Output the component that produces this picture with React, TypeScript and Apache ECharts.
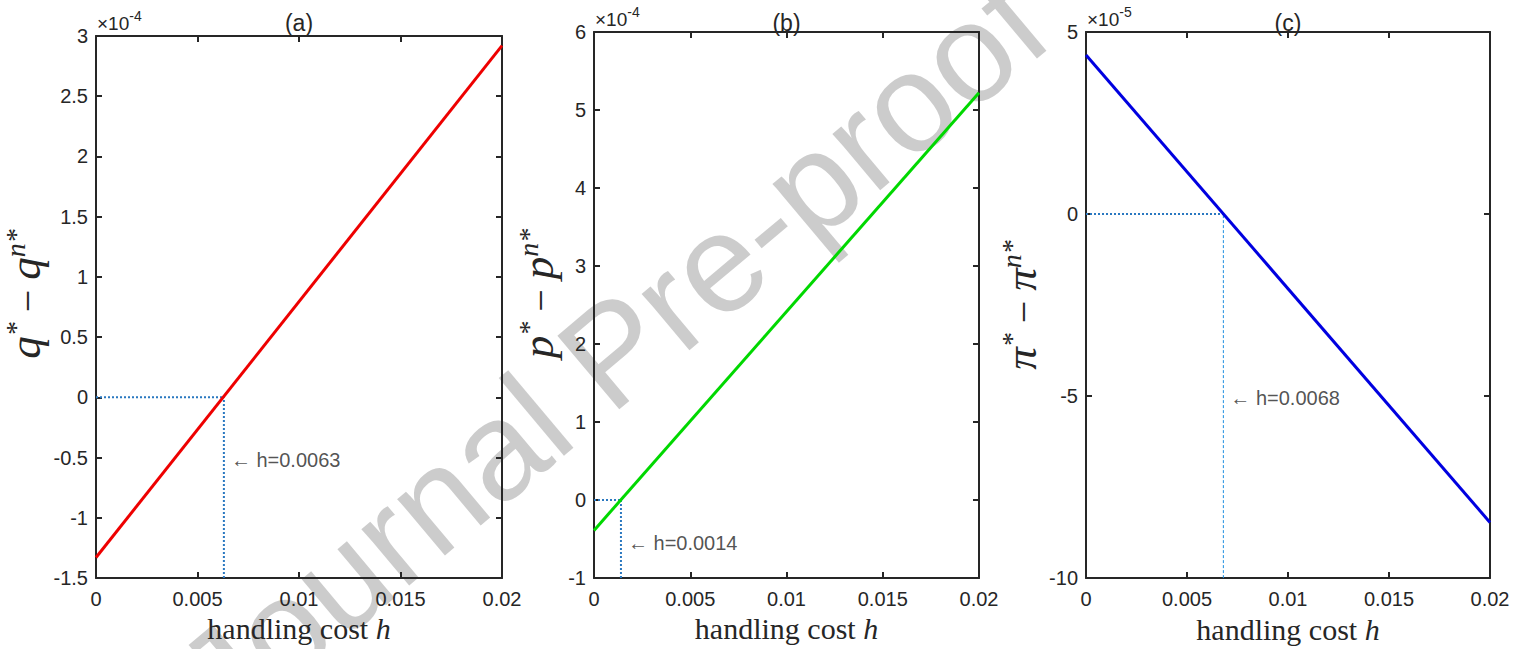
import React, { useEffect, useRef } from "react";
import * as echarts from "echarts";

// ---- data ----
const hRange = [0, 0.02];
const qDiff = [-1.33, 2.92]; // q* - q^{n*}, units of 1e-4
const pDiff = [-0.39, 5.22]; // p* - p^{n*}, units of 1e-4
const piDiff = [4.37, -8.47]; // pi* - pi^{n*}, units of 1e-5
const crossH = [0.0063, 0.0014, 0.0068];
const annotY = [-0.52, -0.55, -5.04];
const panelTitles = ["(a)", "(b)", "(c)"];
const exponents = ["-4", "-4", "-5"];
const yMins = [-1.5, -1, -10];
const yMaxs = [3, 6, 5];
const ySteps = [0.5, 1, 5];
const xMin = 0;
const xMax = 0.02;
const xStep = 0.005;
const lineColors = ["#ee0000", "#00d800", "#0000e0"];
const yNames = [
  "{m|q}{s|*}{o| − }{m|q}{s|n*}",
  "{m|p}{s|*}{o| − }{m|p}{s|n*}",
  "{m|π}{s|*}{o| − }{m|π}{s|n*}",
];
const seriesValues = [qDiff, pDiff, piDiff];

const grids = [
  { left: 96, top: 36, width: 406, height: 542 },
  { left: 594, top: 32, width: 385, height: 546 },
  { left: 1086, top: 32, width: 404, height: 547 },
];
const yNameGaps = [49, 34, 43];
const yNameShift = [26, 23, 0];

const AXIS = "#262626";
const REF = "#2a78c0";
const SANS = "'Liberation Sans', Arial, sans-serif";
const SERIF = "'Liberation Serif', 'Times New Roman', serif";

export default function App() {
  const ref = useRef<HTMLDivElement>(null);
  useEffect(() => {
    if (!ref.current) return;
    const chart = echarts.init(ref.current, undefined, { renderer: "svg" });
    const tickFont = { fontFamily: SANS, fontSize: 20, color: AXIS };

    const xAxes: any[] = [];
    const yAxes: any[] = [];
    const series: any[] = [];
    const titles: any[] = [];
    const graphics: any[] = [];

    for (let i = 0; i < 3; i++) {
      const base = {
        gridIndex: i,
        type: "value",
        splitLine: { show: false },
        axisLine: { show: true, onZero: false, lineStyle: { color: AXIS, width: 2 } },
        axisTick: { show: true, inside: true, length: 6, lineStyle: { color: AXIS, width: 2 } },
      };
      xAxes[i] = {
        ...base,
        position: "bottom",
        min: xMin,
        max: xMax,
        interval: xStep,
        axisLabel: {
          ...tickFont,
          margin: 11,
          formatter: (v: number) => String(parseFloat(v.toFixed(4))),
        },
        name: "{r|handling cost }{i|h}",
        nameLocation: "middle",
        nameGap: 27,
        nameTextStyle: {
          rich: {
            r: { fontFamily: SERIF, fontSize: 30, color: AXIS },
            i: { fontFamily: SERIF, fontSize: 30, fontStyle: "italic", color: AXIS },
          },
        },
      };
      xAxes[i + 3] = {
        ...base,
        position: "top",
        min: xMin,
        max: xMax,
        interval: xStep,
        axisLabel: { show: false },
      };
      yAxes[i] = {
        ...base,
        position: "left",
        min: yMins[i],
        max: yMaxs[i],
        interval: ySteps[i],
        axisLabel: { ...tickFont, margin: 8 },
        name: yNames[i],
        nameLocation: "middle",
        nameRotate: 90,
        nameGap: yNameGaps[i],
        nameTextStyle: {
          padding: [0, 0, 0, yNameShift[i]],
          rich: {
            m: { fontFamily: SERIF, fontSize: 45, fontStyle: "italic", color: AXIS, lineHeight: 50, verticalAlign: "bottom" },
            s: {
              fontFamily: SERIF,
              fontSize: 28,
              fontStyle: "italic",
              color: AXIS,
              lineHeight: 30,
              verticalAlign: "bottom",
              padding: [0, 0, 18, 0],
            },
            o: { fontFamily: SERIF, fontSize: 40, color: AXIS, lineHeight: 50, verticalAlign: "bottom" },
          },
        },
      };
      yAxes[i + 3] = {
        ...base,
        position: "right",
        min: yMins[i],
        max: yMaxs[i],
        interval: ySteps[i],
        axisLabel: { show: false },
      };

      const v = seriesValues[i];
      series.push({
        type: "line",
        xAxisIndex: i,
        yAxisIndex: i,
        data: [
          [hRange[0], v[0]],
          [hRange[1], v[1]],
        ],
        symbol: "none",
        lineStyle: { color: lineColors[i], width: 3 },
        z: 5,
        silent: true,
      });
      // reference lines at the zero crossing
      series.push({
        type: "line",
        xAxisIndex: i,
        yAxisIndex: i,
        data: [
          [xMin, 0],
          [crossH[i], 0],
        ],
        symbol: "none",
        lineStyle: { color: REF, width: 2, type: "dotted" },
        z: 4,
        silent: true,
      });
      series.push({
        type: "line",
        xAxisIndex: i,
        yAxisIndex: i,
        data: [
          [crossH[i], yMins[i]],
          [crossH[i], 0],
        ],
        symbol: "none",
        lineStyle:
          i === 2
            ? { color: "#1e8fe0", width: 1, type: [3, 2] }
            : { color: REF, width: 2, type: "dotted" },
        z: 4,
        silent: true,
      });
      series.push({
        type: "scatter",
        xAxisIndex: i,
        yAxisIndex: i,
        data: [[crossH[i], annotY[i]]],
        symbolSize: 0,
        silent: true,
        label: {
          show: true,
          position: "right",
          distance: 7,
          formatter: `← h=${crossH[i]}`,
          fontFamily: SANS,
          fontSize: 20,
          color: AXIS,
        },
        z: 6,
      });

      const g = grids[i];
      titles.push({
        text: panelTitles[i],
        left: g.left + g.width / 2,
        top: 11,
        textAlign: "center",
        padding: 0,
        textStyle: { fontFamily: SANS, fontSize: 23, fontWeight: "normal", color: AXIS },
      });
      graphics.push({
        type: "text",
        x: g.left + 1,
        y: g.top - 3,
        silent: true,
        style: {
          text: `{a|×10}{b|${exponents[i]}}`,
          verticalAlign: "bottom",
          rich: {
            a: { fontFamily: SANS, fontSize: 19, fill: AXIS, verticalAlign: "bottom", lineHeight: 24 },
            b: { fontFamily: SANS, fontSize: 14, fill: AXIS, verticalAlign: "top", lineHeight: 24 },
          },
        },
      });
    }

    graphics.push({
      type: "text",
      x: 612,
      y: 352,
      rotation: (40 * Math.PI) / 180,
      silent: true,
      z: -10,
      style: {
        text: "Journal Pre-proof",
        fontFamily: SANS,
        fontSize: 140,
        fill: "rgba(170,170,170,0.6)",
        align: "center",
        verticalAlign: "middle",
      },
    });

    chart.setOption({
      animation: false,
      backgroundColor: "#ffffff",
      title: titles,
      grid: grids.map((g) => ({ ...g, containLabel: false })),
      xAxis: xAxes,
      yAxis: yAxes,
      series,
      graphic: graphics,
    });
    return () => chart.dispose();
  }, []);
  return (
    <div
      ref={ref}
      style={{ position: "fixed", left: 0, top: 0, width: 1529, height: 649 }}
    />
  );
}
